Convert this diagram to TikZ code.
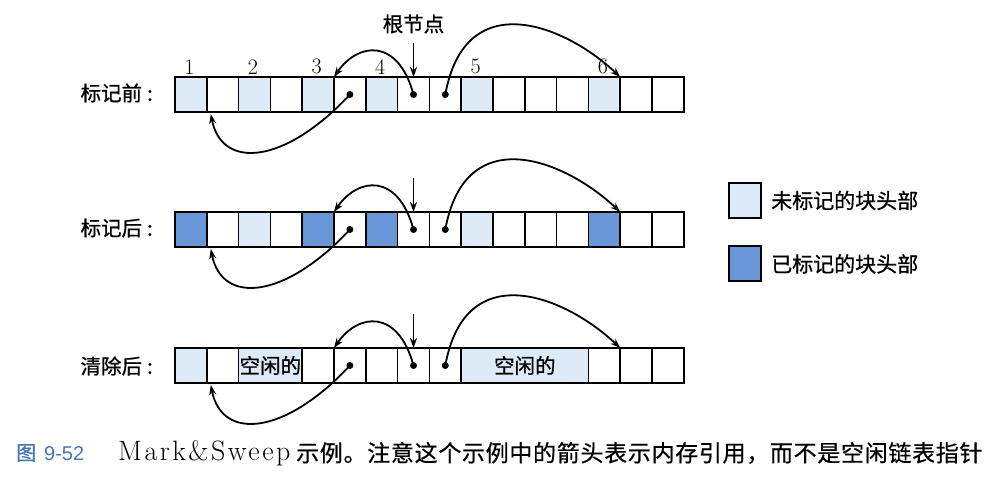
\documentclass[tikz,border=0pt]{standalone}
\usepackage{fontspec}
\newfontfamily\cjk[FakeBold=0.8]{Noto Sans CJK SC}
\newfontfamily\cjkcap[LetterSpace=3,FakeBold=0.6]{Noto Sans CJK SC}
\newfontfamily\capsans{Liberation Sans}
\newfontfamily\capserif[LetterSpace=9]{Latin Modern Roman}
\usetikzlibrary{arrows.meta}
\definecolor{lightb}{RGB}{221,235,248}
\definecolor{darkb}{RGB}{104,150,214}
\definecolor{capblue}{RGB}{70,118,178}
\begin{document}
\begin{tikzpicture}[x=1pt,y=-1pt,
  cell/.style={draw=black, line width=1.6pt, minimum width=31.8pt, minimum height=35pt, inner sep=0pt, outer sep=0pt, font=\cjk\fontsize{20.5}{24}\selectfont},
  ptr/.style={circle, fill=black, inner sep=0pt, minimum size=7pt},
  arr/.style={line width=1.8pt, -{Stealth[length=10pt,width=7pt]}},
  rowlab/.style={anchor=east, inner sep=0pt, font=\cjk\fontsize{20.5}{24}\selectfont},
  num/.style={anchor=south, inner sep=0pt, font=\fontsize{22}{24}\selectfont},
  leg/.style={anchor=west, inner sep=0pt, font=\cjk\fontsize{21}{25}\selectfont}]
\useasboundingbox (0,0) rectangle (998,487);

% ---------- row 1 : before marking ----------
\foreach \i/\f in {0/lightb,1/white,2/lightb,3/white,4/lightb,5/white,6/lightb,7/white,8/white,9/lightb,10/white,11/white,12/white,13/lightb,14/white,15/white}
  \node[cell, fill=\f] (a\i) at ({175+31.8*(\i+0.5)},94.5) {};
\foreach \i/\n in {0/1,2/2,4/3,6/4,9/5,13/6}
  \node[num] (n\n) at ([xshift=-1.5pt,yshift=2.5pt]a\i.north) {\n};
\node[rowlab] (l1) at (153,93) {标记前\hspace{5pt}:};
\node[inner sep=0pt, font=\cjk\fontsize{20.5}{24}\selectfont] (root) at (413.5,24) {根节点};
\coordinate (rt1) at (413.5,43);
\draw[arr] (rt1) -- (a7.north);
\node[ptr] (pa1) at (a5) {};
\node[ptr] (pb1) at (a7) {};
\node[ptr] (pc1) at (a8) {};
\draw[arr] (pb1.center) .. controls +(-15.5,-57) and +(24,-35) .. (a5.north west);
\draw[arr] (pc1.center) .. controls +(20,-110) and +(-55,-52) .. (a14.north west);
\draw[arr] (pa1.center) .. controls +(-65,70) and +(11,56) .. ([xshift=4pt,yshift=-2pt]a1.south west);

% ---------- row 2 : after marking ----------
\foreach \i/\f in {0/darkb,1/white,2/lightb,3/white,4/darkb,5/white,6/darkb,7/white,8/white,9/lightb,10/white,11/white,12/white,13/darkb,14/white,15/white}
  \node[cell, fill=\f] (b\i) at ({175+31.8*(\i+0.5)},229.5) {};
\node[rowlab] (l2) at (153,228) {标记后\hspace{5pt}:};
\coordinate (rt2) at (413.5,178);
\draw[arr] (rt2) -- (b7.north);
\node[ptr] (pa2) at (b5) {};
\node[ptr] (pb2) at (b7) {};
\node[ptr] (pc2) at (b8) {};
\draw[arr] (pb2.center) .. controls +(-15.5,-57) and +(24,-35) .. (b5.north west);
\draw[arr] (pc2.center) .. controls +(20,-110) and +(-55,-52) .. (b14.north west);
\draw[arr] (pa2.center) .. controls +(-65,70) and +(11,56) .. ([xshift=4pt,yshift=-2pt]b1.south west);

% ---------- row 3 : after sweeping ----------
\foreach \i/\f in {0/lightb,1/white,4/white,5/white,6/white,7/white,8/white,13/white,14/white,15/white}
  \node[cell, fill=\f] (c\i) at ({175+31.8*(\i+0.5)},365.5) {};
\node[cell, fill=lightb, minimum width=63.6pt] (cfa) at (270.4,365.5) {空闲的};
\node[cell, fill=lightb, minimum width=127.2pt] (cfb) at (524.8,365.5) {空闲的};
\node[rowlab] (l3) at (153,366) {清除后\hspace{5pt}:};
\coordinate (rt3) at (413.5,314);
\draw[arr] (rt3) -- (c7.north);
\node[ptr] (pa3) at (c5) {};
\node[ptr] (pb3) at (c7) {};
\node[ptr] (pc3) at (c8) {};
\draw[arr] (pb3.center) .. controls +(-15.5,-57) and +(24,-35) .. (c5.north west);
\draw[arr] (pc3.center) .. controls +(20,-110) and +(-55,-52) .. (c14.north west);
\draw[arr] (pa3.center) .. controls +(-65,70) and +(11,56) .. ([xshift=4pt,yshift=-2pt]c1.south west);

% ---------- legend ----------
\node[cell, fill=lightb] (lg1) at (745,200.5) {};
\node[leg] (lt1) at (771,200.5) {未标记的块头部};
\node[cell, fill=darkb] (lg2) at (745,263.5) {};
\node[leg] (lt2) at (771,264) {已标记的块头部};

% ---------- caption ----------
\node[anchor=west, inner sep=0pt] (cap1) at (16,453) {\textcolor{capblue}{{\cjk\fontsize{20}{22}\selectfont 图}\hspace{8pt}{\capsans\fontsize{20}{22}\selectfont 9-52}}};
\node[anchor=west, inner sep=0pt] (cap2) at (118,453) {\capserif\fontsize{28}{30}\selectfont Mark\&Sweep};
\node[anchor=west, inner sep=0pt] (cap3) at (296,453) {\cjkcap\fontsize{23}{26}\selectfont 示例。注意这个示例中的箭头表示内存引用，而不是空闲链表指针};
\end{tikzpicture}
\end{document}
